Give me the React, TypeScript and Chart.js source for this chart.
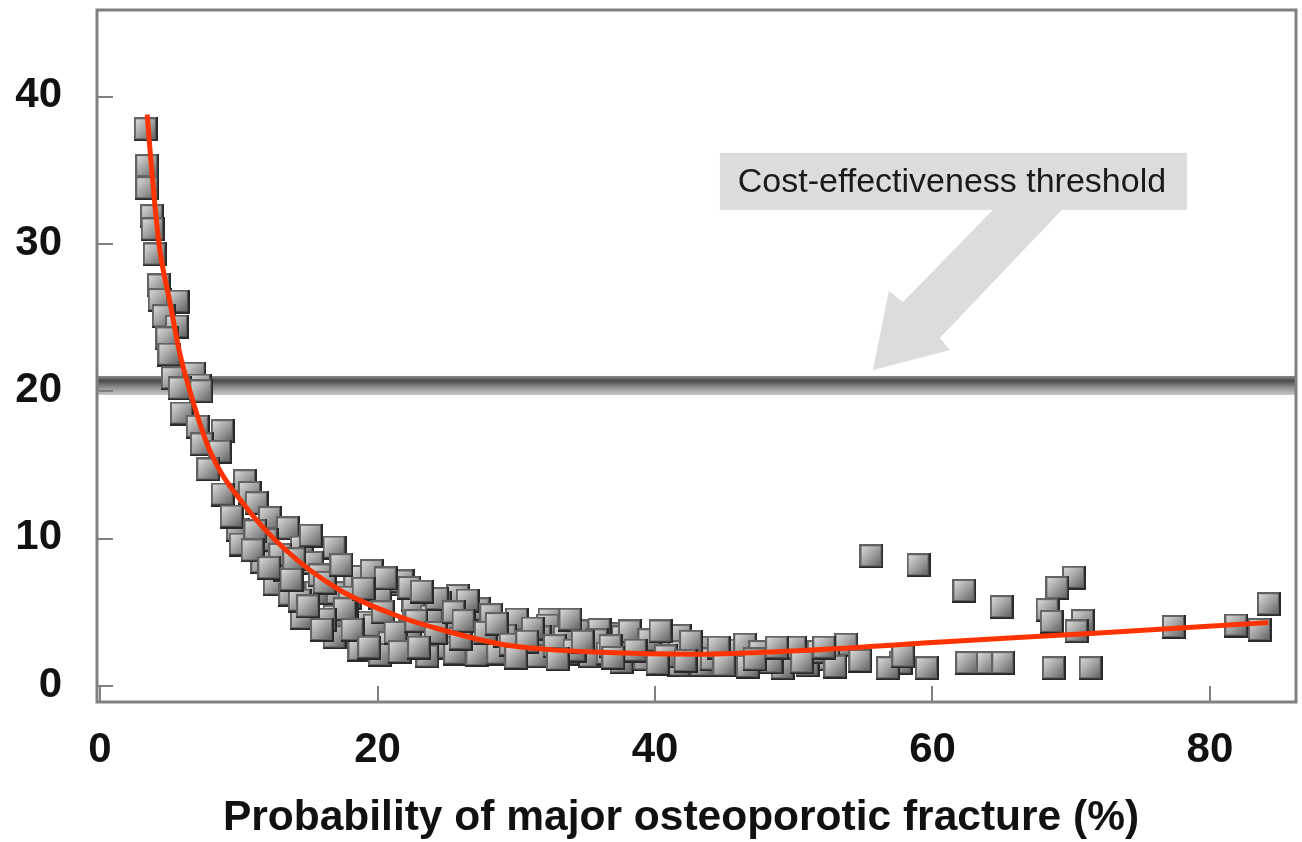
import React, { useEffect, useRef } from 'react';
import { Chart, registerables } from 'chart.js';
Chart.register(...registerables);

// ---- axes ----
const xTickValues = [0, 20, 40, 60, 80];
const yTickValues = [0, 10, 20, 30, 40];
const xLimits = [-0.22, 86.2];
const yLimits = [-1.09, 45.9];
const xAxisTitle = 'Probability of major osteoporotic fracture (%)';

// ---- threshold band & annotation (data units) ----
const thresholdBand = [19.76, 21.05];
const noteText = 'Cost-effectiveness threshold';
const noteBoxX = [44.68, 78.34];
const noteBoxY = [32.33, 36.2];
const noteTextPos = [61.4, 34.16];
const arrowX = [64.36, 69.33, 60.54, 61.26, 55.71, 56.86, 57.87];
const arrowY = [32.33, 32.33, 23.63, 22.82, 21.46, 26.83, 26.08];

// ---- scatter (probability %, cost value) ----
const probValues = [
  3.3, 3.4, 3.4, 3.75, 3.8, 3.95, 4.25, 4.3, 5.6, 4.6, 5.55, 4.85, 5.0, 5.25, 6.8, 7.2,
  5.75, 7.3, 5.9, 8.85, 7.05, 7.35, 8.65, 7.8, 10.45, 8.85, 10.8, 11.3, 12.25, 9.95, 10.15, 13.55,
  14.55, 16.9, 11.7, 15.3, 12.6, 13.7, 14.55, 15.6, 17.15, 16.9, 16.9, 18.4, 18.95, 21.25, 18.0, 18.95,
  18.95, 20.2, 22.0, 22.55, 22.6, 25.8, 24.5, 23.9, 25.2, 24.7, 26.9, 27.2, 28.6, 30.05, 30.5, 22.35,
  19.8, 20.9, 17.8, 23.9, 21.8, 22.3, 24.3, 27.3, 32.4, 32.3, 34.45, 31.7, 33.5, 35.2, 37.3, 37.7,
  37.6, 39.3, 39.1, 41.3, 41.8, 41.8, 41.7, 43.4, 43.4, 44.1, 45.8, 46.5, 46.7, 49.2, 49.2, 50.1,
  35.3, 33.7, 31.5, 23.6, 25.6, 27.2, 28.7,
  55.6, 59.0, 62.3, 65.0, 70.2, 69.0, 68.3, 68.6, 70.85, 70.4, 77.4, 81.9, 84.25, 83.6, 68.75, 71.4,
  62.5, 64.0, 65.1, 59.6, 57.7, 53.8, 54.8, 52.5, 51.0, 56.8, 57.9,
  13.3, 15.85, 17.65, 18.7, 20.2, 14.4, 16.2, 33.9, 36.0, 38.2, 39.6, 40.4,
  9.5, 12.0, 13.0, 11.2, 19.6, 20.6, 23.2, 26.5, 28.2, 29.2, 26.0, 31.2, 35.8, 36.6, 38.6, 40.8,
  42.6, 44.6, 47.6, 48.4, 51.8, 53.0,
  15.2, 14.0, 16.2, 17.4, 19.0, 20.4, 21.3, 22.8, 24.2, 25.5, 26.2, 27.8, 28.6, 29.6, 30.8, 32.8,
  34.2, 34.8, 36.8, 37.0, 40.2, 42.2, 45.0, 47.2, 48.8, 50.6, 52.2, 11.0, 12.2, 13.8, 15.0, 16.0,
  18.2, 19.4, 21.6, 23.0, 33.0, 30.0,
];
const costValues = [
  37.8, 35.3, 33.8, 31.9, 31.0, 29.3, 27.2, 26.2, 26.1, 25.1, 24.4, 23.6, 22.5, 20.9, 21.2, 20.4,
  20.2, 20.0, 18.5, 17.3, 17.6, 16.4, 15.9, 14.7, 13.9, 13.0, 13.1, 12.4, 11.4, 10.6, 9.6, 10.7,
  9.4, 9.4, 8.4, 8.35, 6.9, 6.2, 4.6, 6.3, 6.3, 4.7, 3.3, 7.0, 7.4, 6.9, 6.0, 4.3,
  3.1, 6.0, 3.3, 5.85, 5.3, 6.1, 5.6, 3.0, 4.3, 2.6, 2.3, 5.0, 2.2, 4.5, 2.2, 3.7,
  4.1, 2.9, 5.2, 4.7, 7.1, 6.65, 5.9, 5.2, 4.5, 4.1, 3.7, 3.3, 3.3, 2.8, 3.5, 3.3,
  1.6, 1.8, 2.9, 3.3, 3.4, 2.3, 1.4, 2.6, 1.4, 1.8, 2.4, 2.8, 1.3, 2.2, 1.2, 2.6,
  2.0, 2.2, 2.0, 2.0, 2.2, 2.1, 2.2,
  8.8, 8.2, 6.45, 5.35, 7.35, 6.65, 5.15, 4.35, 4.4, 3.7, 4.0, 4.1, 5.55, 3.8, 1.2, 1.2,
  1.55, 1.55, 1.55, 1.2, 1.55, 2.8, 1.7, 1.8, 1.4, 1.2, 2.0,
  7.9, 7.5, 5.2, 2.45, 2.1, 5.8, 4.5, 4.5, 3.8, 3.7, 3.1, 3.7,
  11.5, 9.9, 8.9, 10.5, 7.8, 7.3, 6.4, 5.8, 4.8, 3.4, 3.2, 3.9, 3.1, 2.2, 2.4, 2.0,
  3.0, 2.6, 2.3, 1.6, 2.3, 1.3,
  10.2, 8.6, 7.0, 8.2, 6.6, 5.0, 3.6, 4.4, 3.6, 5.0, 4.4, 3.6, 4.2, 2.8, 3.0, 2.7,
  2.4, 3.0, 2.7, 1.9, 1.5, 1.7, 1.4, 1.8, 2.6, 1.6, 2.6, 9.2, 8.0, 7.2, 5.4, 3.8,
  3.8, 2.6, 2.3, 2.6, 1.8, 1.9,
];

// ---- fitted curve ----
const fitProb = [3.4, 3.6, 4.25, 5.05, 5.7, 6.3, 7.9, 10.3, 13.3, 17.3, 21.6, 24.3, 28.8, 32, 36, 43, 50.5, 60, 72, 84.2];
const fitCost = [38.8, 36.4, 30.0, 26.0, 22.8, 20.6, 16.0, 12.4, 9.3, 6.5, 4.7, 3.9, 2.85, 2.5, 2.28, 2.15, 2.4, 2.95, 3.6, 4.3];

const FONT = '"Liberation Sans", Arial, sans-serif';

function makeSquare(): HTMLCanvasElement {
  const s = 24;
  const c = document.createElement('canvas');
  c.width = s;
  c.height = s;
  const g = c.getContext('2d')!;
  g.fillStyle = '#2a2a2a';
  g.fillRect(0, 0, s, s);
  g.fillStyle = '#636363';
  g.fillRect(0, 0, s - 2, s - 2);
  const grad = g.createLinearGradient(2, 2, s - 3, s - 3);
  grad.addColorStop(0, '#d8d8d8');
  grad.addColorStop(0.45, '#a8a8a8');
  grad.addColorStop(1, '#666666');
  g.fillStyle = grad;
  g.fillRect(2, 2, s - 5, s - 5);
  return c;
}

const decorPlugin = {
  id: 'decor',
  beforeDatasetsDraw(chart: any) {
    const { ctx, chartArea, scales } = chart;
    const xs = scales.x;
    const ys = scales.y;
    ctx.save();
    // threshold band
    const top = ys.getPixelForValue(thresholdBand[1]);
    const bot = ys.getPixelForValue(thresholdBand[0]);
    const grad = ctx.createLinearGradient(0, top, 0, bot);
    grad.addColorStop(0, '#8c8c8c');
    grad.addColorStop(0.25, '#4a4a4a');
    grad.addColorStop(0.6, '#8e8e8e');
    grad.addColorStop(1, '#c8c8c8');
    ctx.fillStyle = grad;
    ctx.fillRect(chartArea.left, top, chartArea.right - chartArea.left, bot - top);
    // arrow
    ctx.fillStyle = '#dcdcdc';
    ctx.beginPath();
    arrowX.forEach((v, i) => {
      const px = xs.getPixelForValue(v);
      const py = ys.getPixelForValue(arrowY[i]);
      if (i === 0) ctx.moveTo(px, py); else ctx.lineTo(px, py);
    });
    ctx.closePath();
    ctx.fill();
    // note box
    const bx0 = xs.getPixelForValue(noteBoxX[0]);
    const bx1 = xs.getPixelForValue(noteBoxX[1]);
    const by0 = ys.getPixelForValue(noteBoxY[1]);
    const by1 = ys.getPixelForValue(noteBoxY[0]);
    ctx.fillRect(bx0, by0, bx1 - bx0, by1 - by0);
    ctx.fillStyle = '#1a1a1a';
    ctx.font = `34px ${FONT}`;
    ctx.textAlign = 'center';
    ctx.textBaseline = 'middle';
    ctx.fillText(noteText, xs.getPixelForValue(noteTextPos[0]), ys.getPixelForValue(noteTextPos[1]));
    ctx.restore();
  },
  afterDraw(chart: any) {
    const { ctx, chartArea, scales } = chart;
    const xs = scales.x;
    const ys = scales.y;
    ctx.save();
    ctx.strokeStyle = '#808080';
    ctx.lineWidth = 2;
    ctx.beginPath();
    xTickValues.forEach((v) => {
      const px = Math.round(xs.getPixelForValue(v));
      ctx.moveTo(px, chartArea.bottom);
      ctx.lineTo(px, chartArea.bottom - 16);
    });
    yTickValues.forEach((v) => {
      const py = Math.round(ys.getPixelForValue(v));
      ctx.moveTo(chartArea.left, py);
      ctx.lineTo(chartArea.left + 16, py);
    });
    ctx.stroke();
    ctx.lineWidth = 3;
    ctx.strokeRect(chartArea.left, chartArea.top, chartArea.right - chartArea.left, chartArea.bottom - chartArea.top);
    ctx.fillStyle = '#111';
    ctx.font = `bold 42.5px ${FONT}`;
    ctx.textAlign = 'center';
    ctx.textBaseline = 'middle';
    ctx.fillText(xAxisTitle, 681, 818);
    ctx.restore();
  },
};

export default function App() {
  const ref = useRef<HTMLCanvasElement>(null);
  useEffect(() => {
    if (!ref.current) return;
    const square = makeSquare();
    const scatterData = probValues.map((x, i) => ({ x, y: costValues[i] }));
    const fitData = fitProb.map((x, i) => ({ x, y: fitCost[i] }));
    const chart = new Chart(ref.current, {
      type: 'scatter',
      data: {
        datasets: [
          {
            type: 'line',
            label: 'Fit',
            data: fitData,
            borderColor: '#ff3300',
            borderWidth: 5,
            pointRadius: 0,
            cubicInterpolationMode: 'monotone',
            fill: false,
          } as any,
          {
            label: 'Patients',
            data: scatterData,
            pointStyle: square,
            pointRadius: 12,
            backgroundColor: '#aaa',
            borderColor: '#333',
          },
        ],
      },
      options: {
        animation: false,
        responsive: false,
        events: [],
        layout: { autoPadding: false, padding: { top: 10, right: 6, left: 0, bottom: 0 } },
        plugins: { legend: { display: false }, tooltip: { enabled: false } },
        scales: {
          x: {
            type: 'linear',
            min: xLimits[0],
            max: xLimits[1],
            afterBuildTicks: (s: any) => { s.ticks = xTickValues.map((v) => ({ value: v })); },
            afterFit: (s: any) => { s.height = 140; s.paddingLeft = 0; s.paddingRight = 0; },
            grid: { display: false, drawTicks: false },
            border: { display: false },
            ticks: { padding: 23, color: '#111', font: { family: FONT, size: 42, weight: 'bold' } },
          },
          y: {
            type: 'linear',
            min: yLimits[0],
            max: yLimits[1],
            afterBuildTicks: (s: any) => { s.ticks = yTickValues.map((v) => ({ value: v })); },
            afterFit: (s: any) => { s.width = 97; s.paddingTop = 0; s.paddingBottom = 0; },
            grid: { display: false, drawTicks: false },
            border: { display: false },
            ticks: { padding: 35, labelOffset: -1, color: '#111', font: { family: FONT, size: 42, weight: 'bold' } },
          },
        },
      },
      plugins: [decorPlugin],
    });
    return () => chart.destroy();
  }, []);
  return (
    <div style={{ position: 'fixed', left: 0, top: 0, width: 1302, height: 842, background: '#fff' }}>
      <canvas ref={ref} width={1302} height={842} style={{ display: 'block' }} />
    </div>
  );
}
